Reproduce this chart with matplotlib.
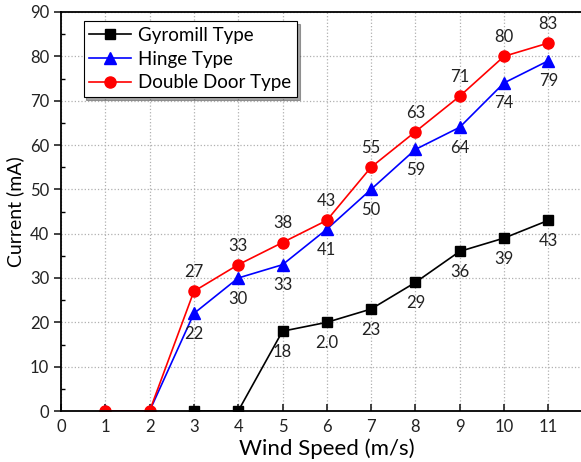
import matplotlib.pyplot as plt
from matplotlib.ticker import MultipleLocator

speed_gyro = [3, 4, 5, 6, 7, 8, 9, 10, 11]
gyromill = [0, 0, 18, 20, 23, 29, 36, 39, 43]
gyro_labels = ["", "", "18", "2.0", "23", "29", "36", "39", "43"]

speed = [1, 2, 3, 4, 5, 6, 7, 8, 9, 10, 11]
hinge = [0, 0, 22, 30, 33, 41, 50, 59, 64, 74, 79]
double_door = [0, 0, 27, 33, 38, 43, 55, 63, 71, 80, 83]

plt.rcParams['font.family'] = ['Lato', 'DejaVu Sans']

fig = plt.figure(figsize=(5.81, 4.62), dpi=100)
# right spine lies outside the picture, as in the original
ax = fig.add_axes([61 / 581, 1 - 411 / 462, 532 / 581, 399 / 462])

ax.plot(speed_gyro, gyromill, color="black", marker="s", markersize=7, lw=1.2, label="Gyromill Type")
ax.plot(speed, hinge, color="blue", marker="^", markersize=8, lw=1.2, label="Hinge Type")
ax.plot(speed, double_door, color="red", marker="o", markersize=8, lw=1.2, label="Double Door Type")

txt = dict(ha="center", fontsize=12, color="#222222", textcoords="offset points")
for x, y, t in zip(speed_gyro, gyromill, gyro_labels):
    if t:
        ax.annotate(t, (x, y), xytext=(0, -9), va="top", **txt)
for x, y in zip(speed, hinge):
    if y > 0:
        ax.annotate(str(y), (x, y), xytext=(0, -9), va="top", **txt)
for x, y in zip(speed, double_door):
    if y > 0:
        ax.annotate(str(y), (x, y), xytext=(0, 8), va="bottom", **txt)

ax.set_xlim(0, 532 / 44.3)
ax.set_ylim(0, 90)
ax.xaxis.set_major_locator(MultipleLocator(1))
ax.set_xticks(range(0, 12))
ax.yaxis.set_major_locator(MultipleLocator(10))
ax.yaxis.set_minor_locator(MultipleLocator(5))
ax.tick_params(axis="x", direction="in", length=5, width=1.2, labelsize=12, colors="#222222", pad=6)
ax.tick_params(axis="y", which="major", direction="out", length=5, width=1.2, labelsize=12, colors="#222222")
ax.tick_params(axis="y", which="minor", direction="in", length=3, width=1.0)
ax.grid(True, which="major", linestyle=":", color="#b0b0b0", lw=0.9)
for s in ax.spines.values():
    s.set_linewidth(1.3)

ax.set_xlabel("Wind Speed (m/s)", fontsize=16, labelpad=2)
ax.set_ylabel("Current (mA)", fontsize=14)

leg = ax.legend(loc="upper left", bbox_to_anchor=(0.025, 1.0), fontsize=13.5, fancybox=False,
                edgecolor="black", shadow=True, borderpad=0.3, labelspacing=0.35,
                handlelength=2.2, handletextpad=0.4)
leg.get_frame().set_linewidth(0.8)

fig.savefig("out.png", dpi=100)
